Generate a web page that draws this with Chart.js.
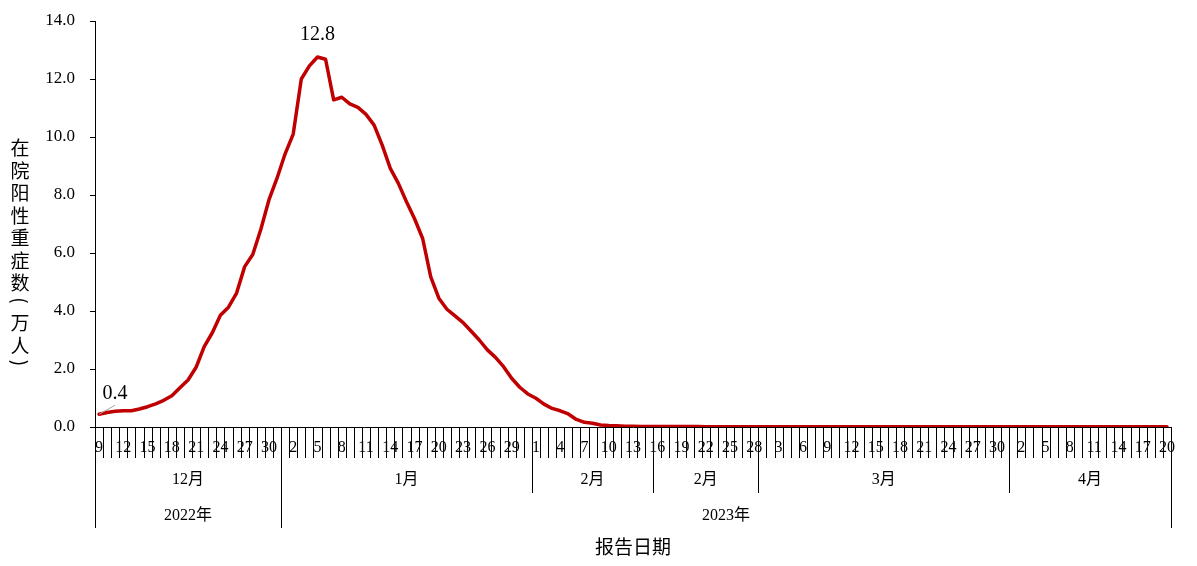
<!DOCTYPE html>
<html>
<head>
<meta charset="utf-8">
<script src="https://cdn.jsdelivr.net/npm/chart.js@4"></script>
<style>
  body { margin: 0; background: #fff; }
  canvas { display: block; }
</style>
</head>
<body>
<canvas id="c" width="1197" height="566"></canvas>
<script>
// 分组：月份（2月分成两段）
const monthNames = ['12月', '1月', '2月', '2月', '3月', '4月'];
const monthStartDay = [9, 1, 1, 16, 1, 1];
const monthEndDay = [31, 31, 15, 28, 31, 20];
const yearNames = ['2022年', '2023年'];
const yearMonthCount = [1, 5];

// 在院阳性重症数（万人），按段
const valuesDec = [0.44, 0.50, 0.54, 0.56, 0.56, 0.62, 0.70, 0.80, 0.92, 1.08, 1.35, 1.62, 2.06, 2.77, 3.25, 3.85, 4.13, 4.62, 5.53, 5.95, 6.82, 7.83, 8.58];
const valuesJan = [9.42, 10.10, 12.00, 12.45, 12.76, 12.68, 11.28, 11.37, 11.14, 11.02, 10.78, 10.41, 9.72, 8.92, 8.40, 7.77, 7.18, 6.50, 5.18, 4.44, 4.06, 3.83, 3.60, 3.30, 3.00, 2.66, 2.40, 2.08, 1.68, 1.37, 1.14];
const valuesFebA = [0.99, 0.79, 0.64, 0.56, 0.45, 0.26, 0.16, 0.13, 0.07, 0.05, 0.04, 0.03, 0.03, 0.02, 0.02];
const valuesFebB = [0.02, 0.02, 0.02, 0.02, 0.02, 0.02, 0.01, 0.01, 0.01, 0.01, 0.01, 0.01, 0.01];
const valuesMar = [0.01, 0.01, 0.01, 0.01, 0.01, 0.01, 0.01, 0.01, 0.01, 0.01, 0.01, 0.01, 0.01, 0.01, 0.01, 0.01, 0.01, 0.01, 0.01, 0.01, 0.01, 0.01, 0.01, 0.01, 0.01, 0.01, 0.01, 0.01, 0.01, 0.01, 0.01];
const valuesApr = [0.01, 0.01, 0.01, 0.01, 0.01, 0.01, 0.01, 0.01, 0.01, 0.01, 0.01, 0.01, 0.01, 0.01, 0.01, 0.01, 0.01, 0.01, 0.01, 0.01];

// y 轴刻度
const yMin = 0;
const yMax = 14;
const yStep = 2;

const yTitleChars = ['在', '院', '阳', '性', '重', '症', '数', '(', '万', '人', ')'];
const xTitle = '报告日期';

// 日期类目
const categories = [];
const monthSizes = [];
for (let m = 0; m < monthNames.length; m++) {
    for (let d = monthStartDay[m]; d <= monthEndDay[m]; d++) {
        categories.push(String(d));
    }
    monthSizes.push(monthEndDay[m] - monthStartDay[m] + 1);
}
const values = [].concat(valuesDec, valuesJan, valuesFebA, valuesFebB, valuesMar, valuesApr);

const SERIF = '"Liberation Serif", "Times New Roman", serif';
const CJK = '"Noto Sans CJK SC", "Noto Sans", sans-serif';
const MIXED = '"Liberation Serif", "Noto Sans CJK SC", serif';

// 自定义绘制：多级横轴、纵轴标题、数据标签
const axisPlugin = {
    id: 'axisPlugin',
    afterDraw(chart) {
        const ctx = chart.ctx;
        const xs = chart.scales.x;
        const ys = chart.scales.y;
        const area = chart.chartArea;
        const n = categories.length;
        const w = (area.right - area.left) / n;
        const base = area.bottom;
        const px = v => Math.round(v) + 0.5;

        ctx.save();
        ctx.strokeStyle = '#000';
        ctx.lineWidth = 1;

        // 分组边界
        const monthEdges = {};
        const yearEdges = {};
        let idx = 0;
        let mi = 0;
        yearEdges[0] = true;
        for (let y = 0; y < yearNames.length; y++) {
            for (let k = 0; k < yearMonthCount[y]; k++) {
                idx += monthSizes[mi];
                monthEdges[idx] = true;
                mi++;
            }
            yearEdges[idx] = true;
        }

        // 每日刻度线
        for (let i = 0; i <= n; i++) {
            const x = px(area.left + i * w);
            let end = base + 31;
            if (monthEdges[i]) end = base + 66;
            if (yearEdges[i]) end = base + 101;
            ctx.beginPath();
            ctx.moveTo(x, base);
            ctx.lineTo(x, end);
            ctx.stroke();
        }

        // 日期标签，每 3 天一个
        ctx.fillStyle = '#000';
        ctx.textAlign = 'center';
        ctx.textBaseline = 'middle';
        ctx.font = '16px ' + SERIF;
        for (let i = 0; i < n; i += 3) {
            ctx.fillText(categories[i], xs.getPixelForValue(i), base + 21);
        }

        // 月份标签
        ctx.font = '16px ' + MIXED;
        let start = 0;
        for (let m = 0; m < monthNames.length; m++) {
            const end = start + monthSizes[m];
            ctx.fillText(monthNames[m], area.left + (start + end) / 2 * w, base + 53);
            start = end;
        }

        // 年份标签
        start = 0;
        mi = 0;
        for (let y = 0; y < yearNames.length; y++) {
            let size = 0;
            for (let k = 0; k < yearMonthCount[y]; k++) {
                size += monthSizes[mi];
                mi++;
            }
            const end = start + size;
            ctx.fillText(yearNames[y], area.left + (start + end) / 2 * w, base + 89);
            start = end;
        }

        // 横轴标题
        ctx.font = '19px ' + CJK;
        ctx.fillText(xTitle, (area.left + area.right) / 2, base + 120);

        // 纵轴标题（竖排）
        ctx.font = '19px ' + CJK;
        let ty = 148;
        for (let c = 0; c < yTitleChars.length; c++) {
            const ch = yTitleChars[c];
            if (ch === '(' || ch === ')') {
                ty -= 5;
                ctx.save();
                ctx.translate(20, ty);
                ctx.rotate(Math.PI / 2);
                ctx.fillText(ch, 0, 0);
                ctx.restore();
                ty += 22.5;
            } else {
                ctx.fillText(ch, 20, ty);
                ty += 22.5;
            }
        }

        // 数据标签：起点和峰值
        const peak = values.indexOf(Math.max.apply(null, values));
        ctx.font = '20px ' + SERIF;
        const p0x = xs.getPixelForValue(0);
        const p0y = ys.getPixelForValue(values[0]);
        ctx.strokeStyle = '#A6A6A6';
        ctx.beginPath();
        ctx.moveTo(p0x, p0y);
        ctx.lineTo(p0x + 16, p0y - 9);
        ctx.stroke();
        ctx.fillText(values[0].toFixed(1), p0x + 16, p0y - 20);
        ctx.fillText(values[peak].toFixed(1), xs.getPixelForValue(peak), ys.getPixelForValue(values[peak]) - 22);

        ctx.restore();
    }
};

new Chart(document.getElementById('c').getContext('2d'), {
    type: 'line',
    data: {
        labels: categories,
        datasets: [{
            data: values,
            borderColor: '#C00000',
            borderWidth: 3.5,
            pointRadius: 0,
            tension: 0,
            borderJoinStyle: 'round',
            borderCapStyle: 'round'
        }]
    },
    options: {
        responsive: false,
        animation: false,
        devicePixelRatio: 1,
        layout: { padding: { top: 21, right: 26, left: 0, bottom: 0 } },
        plugins: {
            legend: { display: false },
            tooltip: { enabled: false }
        },
        scales: {
            x: {
                type: 'category',
                offset: true,
                grid: { display: false },
                ticks: { display: false },
                border: { display: true, color: '#000', width: 1 },
                afterFit: s => { s.height = 139; s.paddingLeft = 0; s.paddingRight = 0; }
            },
            y: {
                min: yMin,
                max: yMax,
                ticks: {
                    stepSize: yStep,
                    color: '#000',
                    padding: 15,
                    font: { family: SERIF, size: 17 },
                    callback: v => Number(v).toFixed(1)
                },
                grid: { drawOnChartArea: false, drawTicks: true, tickLength: 5, color: '#000' },
                border: { display: true, color: '#000', width: 1 },
                afterFit: s => { s.width = 95; s.paddingTop = 0; s.paddingBottom = 0; }
            }
        }
    },
    plugins: [axisPlugin]
});
</script>
</body>
</html>
